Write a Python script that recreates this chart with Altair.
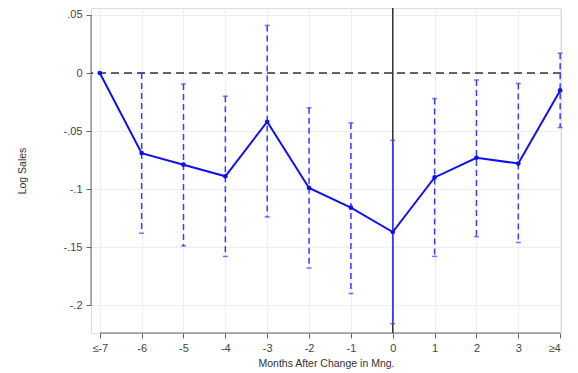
import altair as alt
import pandas as pd

months = [-7, -6, -5, -4, -3, -2, -1, 0, 1, 2, 3, 4]
month_labels = ["≤-7", "-6", "-5", "-4", "-3", "-2", "-1", "0", "1", "2", "3", "≥4"]
estimate = [0.0, -0.069, -0.079, -0.089, -0.042, -0.099, -0.116, -0.137, -0.090, -0.073, -0.078, -0.015]
ci_upper = [None, 0.0, -0.0095, -0.020, 0.041, -0.030, -0.043, -0.058, -0.022, -0.006, -0.009, 0.017]
ci_lower = [None, -0.138, -0.149, -0.158, -0.124, -0.168, -0.190, -0.216, -0.158, -0.141, -0.146, -0.047]
y_ticks = [0.05, 0.0, -0.05, -0.1, -0.15, -0.2]
y_tick_labels = [".05", "0", "-.05", "-.1", "-.15", "-.2"]

df = pd.DataFrame({"t": months, "est": estimate, "hi": ci_upper, "lo": ci_lower})
ci_df = df.dropna()

x_lab_expr = " : ".join(
    f"datum.value == {m} ? '{l}'" for m, l in zip(months, month_labels)
) + " : ''"
y_lab_expr = " : ".join(
    f"abs(datum.value - ({v})) < 0.001 ? '{l}'" for v, l in zip(y_ticks, y_tick_labels)
) + " : ''"

xscale = alt.Scale(domain=[-7.21, 4.02], nice=False, zero=False)
yscale = alt.Scale(domain=[-0.224, 0.056], nice=False, zero=False)

FONT = "Liberation Sans"
xaxis = alt.Axis(values=months, labelExpr=x_lab_expr, title="Months After Change in Mng.",
                 grid=True, gridColor="#eeeeee", gridWidth=1, domain=False,
                 tickColor="#666", tickSize=5, labelColor="#444", labelFont=FONT, labelFontSize=11,
                 titleFont=FONT, titleFontSize=10.5, titleFontWeight="normal", titleColor="#333",
                 titlePadding=5, labelPadding=4, offset=0)
yaxis = alt.Axis(values=y_ticks, labelExpr=y_lab_expr, title="Log Sales",
                 grid=True, gridColor="#eeeeee", gridWidth=1, domain=False,
                 tickColor="#666", tickSize=5, labelColor="#444", labelFont=FONT, labelFontSize=11,
                 titleFont=FONT, titleFontSize=10.5, titleFontWeight="normal", titleColor="#333",
                 titlePadding=36, labelPadding=4)

base = alt.Chart(df)

# axes frame (Stata-style separated axes)
yline_df = pd.DataFrame({"a": [y_ticks[0]], "b": [y_ticks[-1]]})
yline = alt.Chart(yline_df).mark_rule(color="#666", strokeWidth=1).encode(
    x=alt.value(0), y=alt.Y("a:Q", scale=yscale, axis=yaxis), y2="b:Q")
xline_df = pd.DataFrame({"a": [months[0]], "b": [months[-1]]})
xline = alt.Chart(xline_df).mark_rule(color="#666", strokeWidth=1).encode(
    y=alt.value(325), x=alt.X("a:Q", scale=xscale, axis=xaxis), x2="b:Q")

zero_df = pd.DataFrame({"z": [0.0]})
zero_line = alt.Chart(zero_df).mark_rule(color="#333", strokeWidth=1.5, strokeDash=[8, 5]).encode(
    y=alt.Y("z:Q", scale=yscale))
vline = alt.Chart(pd.DataFrame({"v": [0]})).mark_rule(color="#333", strokeWidth=1.5).encode(
    x=alt.X("v:Q", scale=xscale))

ci = alt.Chart(ci_df).mark_rule(color="#3a3aff", strokeWidth=1.5).encode(
    x=alt.X("t:Q", scale=xscale), y=alt.Y("hi:Q", scale=yscale), y2="lo:Q",
    strokeDash=alt.condition("datum.t == 0", alt.value([1, 0]), alt.value([6, 4])))
cap_hi = alt.Chart(ci_df).mark_tick(color="#3a3aff", orient="horizontal", size=5, thickness=1.5).encode(
    x=alt.X("t:Q", scale=xscale), y=alt.Y("hi:Q", scale=yscale))
cap_lo = alt.Chart(ci_df).mark_tick(color="#3a3aff", orient="horizontal", size=5, thickness=1.5).encode(
    x=alt.X("t:Q", scale=xscale), y=alt.Y("lo:Q", scale=yscale))

line = base.mark_line(color="#1010ee", strokeWidth=2).encode(
    x=alt.X("t:Q", scale=xscale), y=alt.Y("est:Q", scale=yscale))
pts = base.mark_circle(color="#1010ee", size=22, opacity=1).encode(
    x=alt.X("t:Q", scale=xscale), y=alt.Y("est:Q", scale=yscale))

chart = alt.layer(yline, xline, vline, zero_line, ci, cap_hi, cap_lo, line, pts).properties(
    width=470, height=325,
    autosize=alt.AutoSizeParams(type="none"),
    padding={"left": 83, "top": 0, "right": 9, "bottom": 40},
).configure_view(stroke=None).configure(background="white")

chart.save("out.html", embed_options={"renderer": "svg", "actions": False})
